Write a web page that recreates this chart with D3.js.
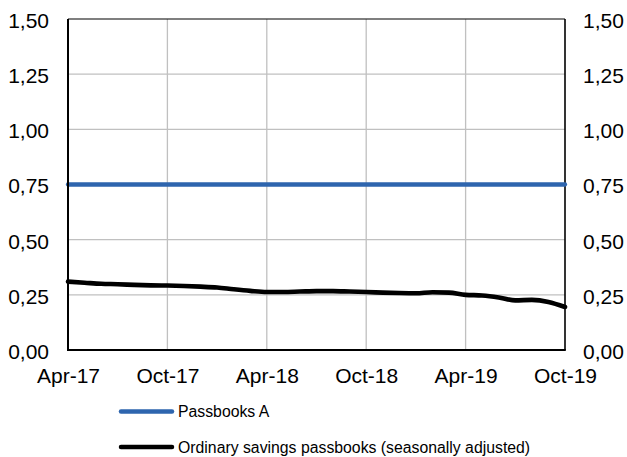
<!DOCTYPE html>
<html><head><meta charset="utf-8">
<script src="https://cdn.jsdelivr.net/npm/d3@7"></script>
<style>body{margin:0;background:#fff}svg{display:block;font-family:"Liberation Sans",Arial,sans-serif}</style>
</head><body><svg id="c" width="627" height="457"></svg>
<script>
const months = ["Apr-17","May-17","Jun-17","Jul-17","Aug-17","Sep-17","Oct-17","Nov-17","Dec-17","Jan-18","Feb-18","Mar-18","Apr-18","May-18","Jun-18","Jul-18","Aug-18","Sep-18","Oct-18","Nov-18","Dec-18","Jan-19","Feb-19","Mar-19","Apr-19","May-19","Jun-19","Jul-19","Aug-19","Sep-19","Oct-19"];
const passbooksA = [0.75,0.75,0.75,0.75,0.75,0.75,0.75,0.75,0.75,0.75,0.75,0.75,0.75,0.75,0.75,0.75,0.75,0.75,0.75,0.75,0.75,0.75,0.75,0.75,0.75,0.75,0.75,0.75,0.75,0.75,0.75];
const ordinary = [0.31,0.305,0.30,0.298,0.295,0.293,0.292,0.29,0.287,0.283,0.275,0.268,0.263,0.263,0.265,0.267,0.267,0.265,0.263,0.26,0.258,0.257,0.262,0.26,0.25,0.247,0.238,0.225,0.227,0.218,0.195];
const xTickLabels = ["Apr-17","Oct-17","Apr-18","Oct-18","Apr-19","Oct-19"];
const yTicks = [0,0.25,0.5,0.75,1.0,1.25,1.5];
const seriesNames = ["Passbooks A","Ordinary savings passbooks (seasonally adjusted)"];
const colors = ["#2E65AE","#000000"];

const svg = d3.select("#c");
const L=68,R=565,T=19,B=350;
const x = d3.scalePoint().domain(months).range([L,R]);
const y = d3.scaleLinear().domain([0,1.5]).range([B,T]);
const fmt = d => d3.format(".2f")(d).replace(".",",");

// grid
const g = svg.append("g");
g.selectAll(".hg").data(yTicks.filter(v=>v>0&&v<1.5)).enter().append("line")
 .attr("x1",L).attr("x2",R).attr("y1",d=>y(d)).attr("y2",d=>y(d))
 .attr("stroke","#c0c0c0").attr("stroke-width",1.3);
g.selectAll(".vg").data(xTickLabels.slice(1,-1)).enter().append("line")
 .attr("x1",d=>x(d)).attr("x2",d=>x(d)).attr("y1",T).attr("y2",B)
 .attr("stroke","#c0c0c0").attr("stroke-width",1.3);

// border
svg.append("line").attr("x1",L).attr("x2",R).attr("y1",T).attr("y2",T).attr("stroke","#000").attr("stroke-width",1.2);
svg.append("line").attr("x1",R).attr("x2",R).attr("y1",T).attr("y2",B).attr("stroke","#000").attr("stroke-width",1.6);

// lines
const line = d3.line().x((d,i)=>x(months[i])).y(d=>y(d)).curve(d3.curveMonotoneX);
[passbooksA, ordinary].forEach((s,i)=>{
  svg.append("path").datum(s).attr("d",line).attr("fill","none")
   .attr("stroke",colors[i]).attr("stroke-width",i==0?4.3:4.6).attr("stroke-linecap","round");
});

// axes
const yl = d3.axisLeft(y).tickValues(yTicks).tickFormat(fmt).tickSize(0).tickPadding(19);
const yr = d3.axisRight(y).tickValues(yTicks).tickFormat(fmt).tickSize(0).tickPadding(18);
const xa = d3.axisBottom(x).tickValues(xTickLabels).tickSize(0).tickPadding(18);
const styleAx = a => { a.selectAll("text").attr("font-size",21).attr("fill","#000").attr("font-family","'Liberation Sans',Arial,sans-serif"); a.select(".domain").remove(); };
svg.append("g").attr("transform",`translate(${L},0)`).call(yl).call(styleAx).selectAll("text").attr("dy","0.4em");
svg.append("g").attr("transform",`translate(${R},0)`).call(yr).call(styleAx).selectAll("text").attr("dy","0.4em");
svg.append("g").attr("transform",`translate(0,${B})`).call(xa).call(styleAx);

svg.append("line").attr("x1",L).attr("x2",L).attr("y1",T).attr("y2",B+1).attr("stroke","#000").attr("stroke-width",2);
svg.append("line").attr("x1",L-1).attr("x2",R+0.8).attr("y1",B).attr("y2",B).attr("stroke","#000").attr("stroke-width",2);

// legend
const lg = svg.append("g");
const ly = [411.5, 447];
seriesNames.forEach((n,i)=>{
  lg.append("line").attr("x1",121).attr("x2",172).attr("y1",ly[i]).attr("y2",ly[i])
    .attr("stroke",colors[i]).attr("stroke-width",4.5).attr("stroke-linecap","round");
  lg.append("text").attr("x",178).attr("y",ly[i]).attr("dy","0.35em").attr("font-size",15.8).attr("fill","#000").text(n);
});
</script></body></html>
